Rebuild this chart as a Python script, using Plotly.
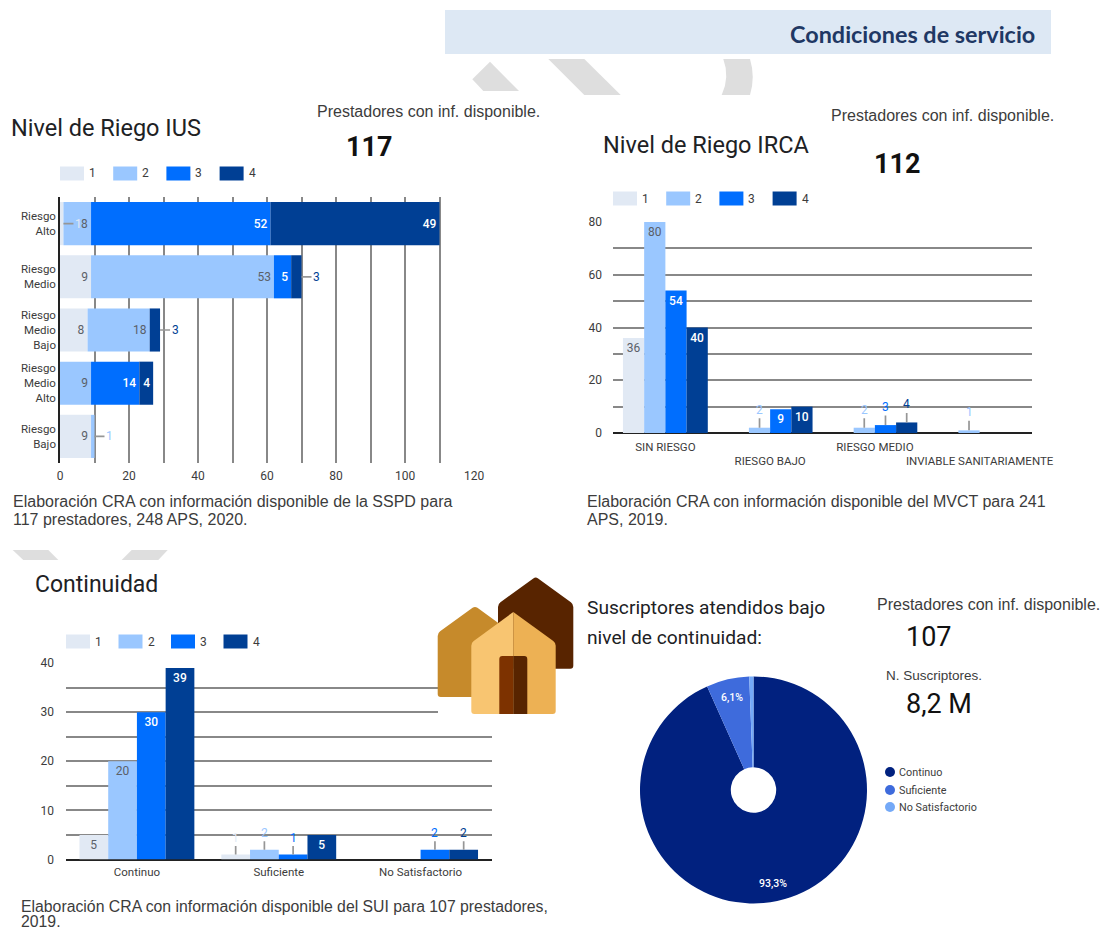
import math

import plotly.graph_objects as go

W, H = 1102, 932

# ---- data ----
series_names = ["1", "2", "3", "4"]

ius_categories = ["Riesgo<br>Alto", "Riesgo<br>Medio", "Riesgo<br>Medio<br>Bajo", "Riesgo<br>Medio<br>Alto", "Riesgo<br>Bajo"]
ius_1 = [1, 9, 8, 0, 9]
ius_2 = [8, 53, 18, 9, 1]
ius_3 = [52, 5, 0, 14, 0]
ius_4 = [49, 3, 3, 4, 0]
ius_ticks = [0, 10, 20, 30, 40, 50, 60, 70, 80, 90, 100, 110, 120]
ius_ticktext = ["0", "", "20", "", "40", "", "60", "", "80", "", "100", "", "120"]

irca_categories = ["SIN RIESGO", "RIESGO BAJO", "RIESGO MEDIO", "INVIABLE SANITARIAMENTE"]
irca_ticktext = ["SIN RIESGO", "<br>RIESGO BAJO", "RIESGO MEDIO", "<br>INVIABLE SANITARIAMENTE"]
irca_1 = [36, 0, 0, 0]
irca_2 = [80, 2, 2, 1]
irca_3 = [54, 9, 3, 0]
irca_4 = [40, 10, 4, 0]
irca_ticks = [0, 10, 20, 30, 40, 50, 60, 70, 80]
irca_ticklabels = ["0", "", "20", "", "40", "", "60", "", "80"]

cont_categories = ["Continuo", "Suficiente", "No Satisfactorio"]
cont_1 = [5, 1, 0]
cont_2 = [20, 2, 0]
cont_3 = [30, 1, 2]
cont_4 = [39, 5, 2]
cont_ticks = [0, 5, 10, 15, 20, 25, 30, 35, 40]
cont_ticklabels = ["0", "", "10", "", "20", "", "30", "", "40"]

pie_labels = ["Continuo", "Suficiente", "No Satisfactorio"]
pie_values = [93.3, 6.1, 0.6]
pie_text = ["93,3%", "6,1%", ""]

# ---- styling ----
BAR_COLORS = ["#e1e9f4", "#9ac7ff", "#006efe", "#003f94"]
INSIDE_COLORS = ["#5b6068", "#5b6068", "#ffffff", "#ffffff"]
INSIDE_WEIGHTS = [400, 400, 500, 500]
PIE_COLORS = ["#01217f", "#3e6bdc", "#74a9f7"]
GRID = "#888888"
INK = "#3c3c3c"
TITLE_INK = "#202124"
ROBOTO = "Roboto"
ARIAL = "Liberation Sans"
BAR_GAP = 0.19
LEADER = "#969696"


def px(x):
    return x / W


def py(y):
    return 1 - y / H


def dom_x(l, r):
    return [px(l), px(r)]


def dom_y(t, b):
    return [py(b), py(t)]


annotations = []
shapes = []
TEXT_PAD = {"left": -2, "right": 2, "center": 0}


def text(x, y, s, size, color=INK, family=ROBOTO, anchor="left", weight=400):
    annotations.append(dict(
        xref="paper", yref="paper", x=px(x), y=py(y), text=s, showarrow=False,
        xanchor=anchor, yanchor="middle", align=anchor, xshift=TEXT_PAD[anchor],
        font=dict(size=size, color=color, family=family, weight=weight),
    ))


def polygon(points, color, layer="below"):
    path = "M" + " L".join(f"{px(a):.5f},{py(b):.5f}" for a, b in points) + " Z"
    shapes.append(dict(type="path", xref="paper", yref="paper", path=path,
                       fillcolor=color, line=dict(width=0), layer=layer))


def rounded(points, radius, color, layer="above"):
    """Closed polygon with softened corners; points flagged False stay sharp."""
    n = len(points)
    parts = []
    for k in range(n):
        ax_, ay_, soft = points[k]
        if not soft:
            cmd = "M" if k == 0 else "L"
            parts.append(f"{cmd}{px(ax_):.5f},{py(ay_):.5f}")
            continue
        bx, by = points[k - 1][:2]
        cx_, cy_ = points[(k + 1) % n][:2]
        d1 = math.hypot(bx - ax_, by - ay_)
        d2 = math.hypot(cx_ - ax_, cy_ - ay_)
        s = (ax_ + (bx - ax_) * radius / d1, ay_ + (by - ay_) * radius / d1)
        e = (ax_ + (cx_ - ax_) * radius / d2, ay_ + (cy_ - ay_) * radius / d2)
        cmd = "M" if k == 0 else "L"
        parts.append(f"{cmd}{px(s[0]):.5f},{py(s[1]):.5f} Q{px(ax_):.5f},{py(ay_):.5f} {px(e[0]):.5f},{py(e[1]):.5f}")
    shapes.append(dict(type="path", xref="paper", yref="paper", path=" ".join(parts) + " Z",
                       fillcolor=color, line=dict(width=0), layer=layer))


def rect(x0, y0, x1, y1, color, layer="below"):
    shapes.append(dict(type="rect", xref="paper", yref="paper",
                       x0=px(x0), x1=px(x1), y0=py(y0), y1=py(y1),
                       fillcolor=color, line=dict(width=0), layer=layer))


def legend_row(x_start, step, y):
    for i, name in enumerate(series_names):
        x = x_start + i * step
        rect(x, y - 7, x + 24, y + 7, BAR_COLORS[i])
        text(x + 29, y, name, 12, INK)


def leader(xref, yref, x, y, value, color, ax, ay):
    annotations.append(dict(
        xref=xref, yref=yref, x=x, y=y, text=str(value), showarrow=True,
        arrowhead=0, arrowwidth=1.7, arrowcolor=LEADER, ax=ax, ay=ay, standoff=0,
        font=dict(size=12, color=color, family=ROBOTO),
    ))


def bar_font(i):
    return dict(size=12, color=INSIDE_COLORS[i], family=ROBOTO, weight=INSIDE_WEIGHTS[i])


fig = go.Figure()

# ---- stacked horizontal bars: IUS ----
ius_series = [ius_1, ius_2, ius_3, ius_4]
ius_min_inside = 4
bases = [0] * len(ius_categories)
for i, values in enumerate(ius_series):
    fig.add_trace(go.Bar(
        y=ius_categories, x=values, base=list(bases), orientation="h",
        offsetgroup="ius", name=series_names[i], marker=dict(color=BAR_COLORS[i], line=dict(width=0)),
        text=[str(v) if v >= ius_min_inside else "" for v in values],
        textposition="inside", insidetextanchor="end", textangle=0, constraintext="none",
        insidetextfont=bar_font(i), xaxis="x", yaxis="y", showlegend=False,
    ))
    for j, v in enumerate(values):
        if 0 < v < ius_min_inside:
            leader("x", "y", bases[j] + v, j, v, BAR_COLORS[i], 15, 0)
    bases = [b + v for b, v in zip(bases, values)]


def grouped(series, categories, xa, ya, min_inside, lift):
    slot = (1 - BAR_GAP) / len(series)
    for i, values in enumerate(series):
        fig.add_trace(go.Bar(
            x=categories, y=values, name=series_names[i],
            marker=dict(color=BAR_COLORS[i], line=dict(width=0)),
            text=[str(v) if v >= min_inside else "" for v in values],
            textposition="inside", insidetextanchor="end", textangle=0, constraintext="none",
            insidetextfont=bar_font(i), xaxis=xa, yaxis=ya, showlegend=False,
        ))
        for j, v in enumerate(values):
            if 0 < v < min_inside:
                centre = j + (i - (len(series) - 1) / 2) * slot
                leader(xa, ya, centre, v, v, BAR_COLORS[i], 0, lift)


# ---- grouped vertical bars: IRCA and Continuidad ----
grouped([irca_1, irca_2, irca_3, irca_4], irca_categories, "x2", "y2", 5, -18)
grouped([cont_1, cont_2, cont_3, cont_4], cont_categories, "x3", "y3", 3, -17)

# ---- donut: suscriptores ----
cx, cy, radius = 753.5, 790, 113.5
fig.add_trace(go.Pie(
    labels=pie_labels, values=pie_values, textinfo="none",
    sort=False, direction="clockwise", rotation=0, hole=0.2,
    marker=dict(colors=PIE_COLORS, line=dict(width=0)),
    domain=dict(x=dom_x(cx - radius, cx + radius), y=dom_y(cy - radius, cy + radius)),
    showlegend=False,
))

# percentage labels sit on each slice's mid-angle, 84 % of the way out
running = 0.0
total = sum(pie_values)
for value, label in zip(pie_values, pie_text):
    angle = 2 * math.pi * (running + value / 2) / total
    running += value
    if label:
        text(cx + 0.84 * radius * math.sin(angle), cy - 0.84 * radius * math.cos(angle),
             label, 10.5, "#ffffff", ROBOTO, "center", 500)

# ---- page furniture ----
rect(445, 10, 1051, 54, "#dde8f4")
WATERMARK = "#dedede"
polygon([(472.3, 79.3), (490, 61.7), (519, 91), (483.3, 91)], WATERMARK)
polygon([(548.3, 59), (584.3, 59), (620.7, 95), (584.3, 95)], WATERMARK)
shapes.append(dict(
    type="path", xref="paper", yref="paper", fillcolor=WATERMARK, line=dict(width=0), layer="below",
    path=(f"M{px(723.3):.5f},{py(59):.5f} L{px(750):.5f},{py(59):.5f} "
          f"Q{px(755.5):.5f},{py(77):.5f} {px(750):.5f},{py(95):.5f} "
          f"L{px(721.7):.5f},{py(95):.5f} Q{px(730):.5f},{py(77):.5f} {px(723.3):.5f},{py(59):.5f} Z"),
))
polygon([(12.7, 550), (48.3, 550), (58.3, 560), (23.3, 560)], WATERMARK)
polygon([(131.7, 550), (167.7, 550), (158.3, 560), (121.7, 560)], WATERMARK)

text(1035, 33.5, "Condiciones de servicio", 23.4, "#1f3864", "Lato", "right", 700)

text(11, 128, "Nivel de Riego IUS", 23.5, TITLE_INK)
text(317, 111, "Prestadores con inf. disponible.", 16, INK, ARIAL)
text(369, 147, "117", 27, "#111111", ROBOTO, "center", 700)
legend_row(60, 53.2, 173.5)
text(13, 501, "Elaboración CRA con información disponible de la SSPD para", 16, INK, ARIAL)
text(13, 519, "117 prestadores, 248 APS, 2020.", 16, INK, ARIAL)

text(603, 145, "Nivel de Riego IRCA", 23.5, TITLE_INK)
text(831, 116, "Prestadores con inf. disponible.", 16, INK, ARIAL)
text(897, 164, "112", 27, "#111111", ROBOTO, "center", 700)
legend_row(613, 53.2, 198.5)
text(587, 501, "Elaboración CRA con información disponible del MVCT para 241", 16, INK, ARIAL)
text(587, 519, "APS, 2019.", 16, INK, ARIAL)

text(35, 584, "Continuidad", 23, TITLE_INK)
legend_row(66, 52.5, 641.5)
text(21, 906, "Elaboración CRA con información disponible del SUI para 107 prestadores,", 15.8, INK, ARIAL)
text(21, 921.5, "2019.", 15.8, INK, ARIAL)

text(587, 607, "Suscriptores atendidos bajo", 19.2, TITLE_INK)
text(587, 637, "nivel de continuidad:", 19.2, TITLE_INK)
text(877, 604, "Prestadores con inf. disponible.", 16, INK, ARIAL)
text(929, 637, "107", 27, "#111111", ROBOTO, "center")
text(886, 675, "N. Suscriptores.", 13.5, INK, ARIAL)
text(939, 704, "8,2 M", 27, "#111111", ROBOTO, "center")
for name, colour, y in zip(pie_labels, PIE_COLORS, [772, 790, 807]):
    shapes.append(dict(type="circle", xref="paper", yref="paper",
                       x0=px(885), x1=px(895), y0=py(y + 5), y1=py(y - 5),
                       fillcolor=colour, line=dict(width=0)))
    text(899, y, name, 10.8, INK)

# ---- house icon over the Continuidad chart ----
rect(438, 655, 493, 716, "#ffffff", "above")
rounded([(498, 604, True), (535.7, 576.7, True), (573.3, 604, True), (573.3, 668.7, True), (498, 668.7, True)], 3, "#582400")
rounded([(437.7, 633, True), (475, 606, True), (512, 633, False), (512, 697, False), (437.7, 697, True)], 3, "#c68a2b")
rounded([(471.3, 642.7, True), (513.3, 612, False), (513.3, 714, False), (471.3, 714, True)], 3, "#f8c571")
rounded([(513.3, 612, False), (555.7, 642.7, True), (555.7, 714, True), (513.3, 714, False)], 3, "#edb154")
rounded([(499.3, 656, True), (513.3, 656, False), (513.3, 714, False), (499.3, 714, False)], 3, "#7d3200")
rounded([(513.3, 656, False), (527.3, 656, True), (527.3, 714, False), (513.3, 714, False)], 3, "#582400")

tick_font = dict(size=12, color=INK, family=ROBOTO)
cat_font = dict(size=11.5, color=INK, family=ROBOTO)
grid_kw = dict(showgrid=True, gridcolor=GRID, gridwidth=2, ticks="", tickfont=tick_font)

fig.update_layout(
    width=W, height=H, margin=dict(l=0, r=0, t=0, b=0, pad=0, autoexpand=False),
    paper_bgcolor="#ffffff", plot_bgcolor="rgba(0,0,0,0)",
    barmode="group", bargap=BAR_GAP, bargroupgap=0, showlegend=False,
    shapes=shapes, annotations=annotations, hovermode=False,
    xaxis=dict(domain=dom_x(60, 474), range=[0, 120], anchor="y", tickmode="array",
               tickvals=ius_ticks, ticktext=ius_ticktext, zeroline=False,
               ticklabelstandoff=4, **grid_kw),
    yaxis=dict(domain=dom_y(197, 463), range=[4.5, -0.5], anchor="x", type="category",
               categoryorder="array", categoryarray=ius_categories,
               showgrid=False, showline=True, linecolor="#222222", linewidth=1.5,
               ticks="", tickfont=dict(size=11.5, color=INK, family=ROBOTO)),
    xaxis2=dict(domain=dom_x(613, 1032), anchor="y2", type="category", tickmode="array",
                tickvals=irca_categories, ticktext=irca_ticktext, showgrid=False, ticks="",
                tickangle=0, ticklabelstandoff=5, tickfont=cat_font),
    yaxis2=dict(domain=dom_y(222, 433), range=[0, 80], anchor="x2", tickmode="array",
                tickvals=irca_ticks, ticktext=irca_ticklabels, zeroline=True,
                zerolinecolor="#222222", zerolinewidth=1.5, ticklabelstandoff=10, **grid_kw),
    xaxis3=dict(domain=dom_x(66, 491.5), anchor="y3", type="category", showgrid=False, ticks="",
                tickangle=0, ticklabelstandoff=4, tickfont=cat_font),
    yaxis3=dict(domain=dom_y(663, 859.5), range=[0, 40], anchor="x3", tickmode="array",
                tickvals=cont_ticks, ticktext=cont_ticklabels, zeroline=True,
                zerolinecolor="#222222", zerolinewidth=1.5, ticklabelstandoff=11, **grid_kw),
)

fig.write_html("out.html", config=dict(displayModeBar=False))
